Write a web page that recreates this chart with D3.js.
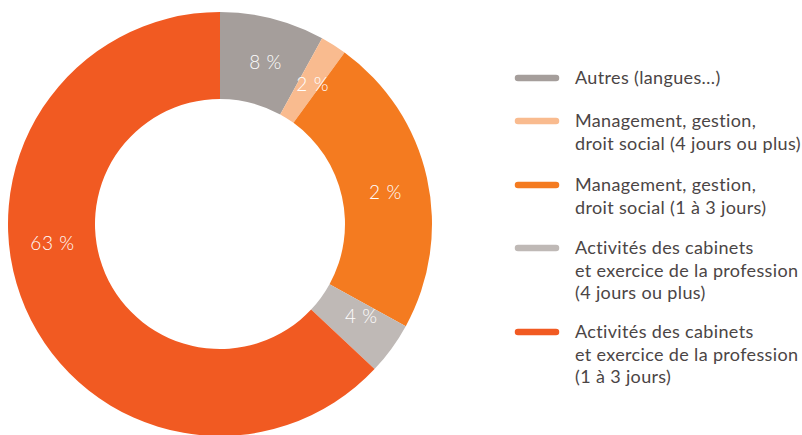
<!DOCTYPE html>
<html>
<head>
<meta charset="utf-8">
<script src="https://cdn.jsdelivr.net/npm/d3@7"></script>
<style>
  html, body { margin: 0; padding: 0; background: #fff; }
  svg { display: block; }
</style>
</head>
<body>
<svg id="chart" width="802" height="435"></svg>
<script>
// Répartition des formations suivies
const categories = [
  "Autres (langues…)",
  "Management, gestion, droit social (4 jours ou plus)",
  "Management, gestion, droit social (1 à 3 jours)",
  "Activités des cabinets et exercice de la profession (4 jours ou plus)",
  "Activités des cabinets et exercice de la profession (1 à 3 jours)"
];
const legendLines = [
  ["Autres (langues…)"],
  ["Management, gestion,", "droit social (4 jours ou plus)"],
  ["Management, gestion,", "droit social (1 à 3 jours)"],
  ["Activités des cabinets", "et exercice de la profession", "(4 jours ou plus)"],
  ["Activités des cabinets", "et exercice de la profession", "(1 à 3 jours)"]
];
const shares = [8, 2, 23, 4, 63];
const sliceLabels = ["8 %", "2 %", "2 %", "4 %", "63 %"];
const colors = ["#a59e9b", "#f9bb8f", "#f47b20", "#bfb9b6", "#f15a22"];

const svg = d3.select("#chart");
const cx = 220, cy = 224, outerR = 212, innerR = 125;

const pie = d3.pie().sort(null).value(d => d);
const arcs = pie(shares);
const arc = d3.arc().innerRadius(innerR).outerRadius(outerR);

const g = svg.append("g").attr("transform", `translate(${cx},${cy})`);

g.selectAll("path.slice")
  .data(arcs)
  .join("path")
  .attr("class", "slice")
  .attr("d", arc)
  .attr("fill", (d, i) => colors[i]);

// label angle nudges (degrees) so the text sits well inside each ring segment
const nudge = [1.3, 1, 1.6, -3, 17];
const labelR = (innerR + outerR) / 2;
g.selectAll("text.val")
  .data(arcs)
  .join("text")
  .attr("class", "val")
  .attr("x", (d, i) => {
    const a = (d.startAngle + d.endAngle) / 2 + nudge[i] * Math.PI / 180;
    return labelR * Math.sin(a);
  })
  .attr("y", (d, i) => {
    const a = (d.startAngle + d.endAngle) / 2 + nudge[i] * Math.PI / 180;
    return -labelR * Math.cos(a);
  })
  .attr("text-anchor", "middle")
  .attr("dominant-baseline", "central")
  .attr("fill", "#fff")
  .attr("font-family", "Lato, 'Open Sans', sans-serif")
  .attr("font-weight", 300)
  .attr("font-size", 19)
  .attr("letter-spacing", 0.6)
  .text((d, i) => sliceLabels[i]);

// Legend
const legendY = [78, 121, 185, 248, 332];
const lineH = 22.5;
const legend = svg.append("g");
const items = legend.selectAll("g.item")
  .data(categories)
  .join("g")
  .attr("class", "item")
  .attr("transform", (d, i) => `translate(0,${legendY[i]})`);

items.append("line")
  .attr("x1", 518).attr("x2", 556)
  .attr("y1", 0).attr("y2", 0)
  .attr("stroke", (d, i) => colors[i])
  .attr("stroke-width", 6.5)
  .attr("stroke-linecap", "round");

items.append("text")
  .attr("x", 575)
  .attr("y", 0)
  .attr("fill", "#4b4545")
  .attr("font-family", "Lato, 'Open Sans', sans-serif")
  .attr("font-size", 18)
  .attr("letter-spacing", 0.35)
  .selectAll("tspan")
  .data((d, i) => legendLines[i])
  .join("tspan")
  .attr("x", 575)
  .attr("dy", (d, j) => j === 0 ? 6 : lineH)
  .text(d => d);
</script>
</body>
</html>
